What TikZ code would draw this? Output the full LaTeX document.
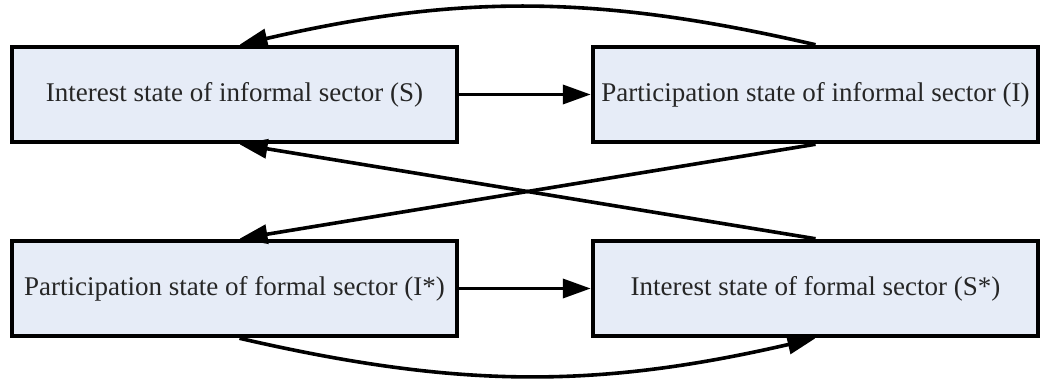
\documentclass[tikz,border=0pt]{standalone}
\usepackage{fontspec}
\setmainfont{Liberation Serif}
\usepackage{tikz}
\usetikzlibrary{arrows.meta}
\definecolor{boxfill}{RGB}{230,236,247}
\tikzset{statebox/.style={draw=black, line width=4.5pt, fill=boxfill,
  minimum width=445pt, minimum height=95pt, inner sep=0pt,
  font=\fontsize{27}{32}\selectfont, text=black!85}}
\tikzset{flow/.style={line width=3.6pt, ->}}

\begin{document}
\begin{tikzpicture} [x=1pt, y=1pt, >={Triangle[length=28pt,width=19pt]}]
\useasboundingbox (0,0) rectangle (1054,382);
% states
\node[statebox] (IS) at (234.5,287.5) {Interest state of informal sector (S)};
\node[statebox] (PI) at (815.5,287.5) {Participation state of informal sector (I)};
\node[statebox] (PF) at (234.5,93.5)  {Participation state of formal sector (I*)};
\node[statebox] (SF) at (815.5,93.5)  {Interest state of formal sector (S*)};
% transitions
\draw[flow] (IS.east) -- (PI.west);
\draw[flow] (PF.east) -- (SF.west);
\draw[flow] (PI.south) -- ([xshift=5pt]PF.north);
\draw[flow] (SF.north) -- ([xshift=5pt]IS.south);
\draw[flow] (PI.north) to[out=167, in=13] ([xshift=5pt]IS.north);
\draw[flow] ([xshift=5pt]PF.south) to[out=-13, in=-167] (SF.south);
\end{tikzpicture}
\end{document}
